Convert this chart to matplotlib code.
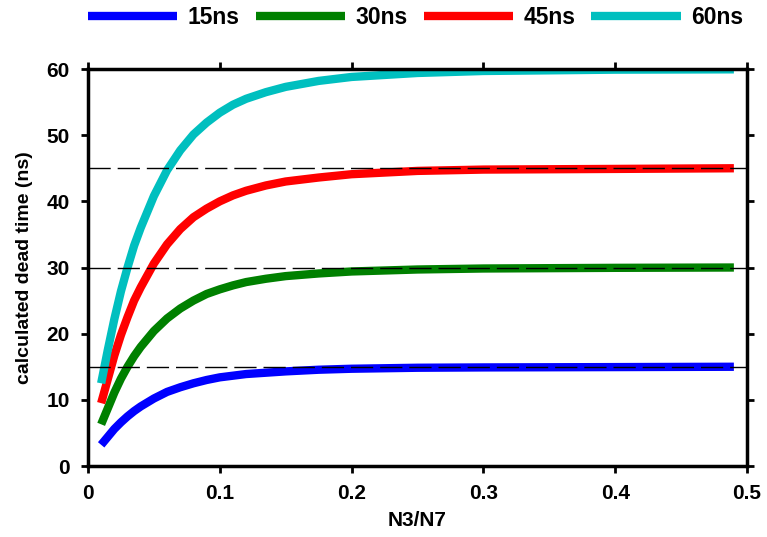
import matplotlib
matplotlib.use('Agg')
from matplotlib import pyplot as plt

plt.rcParams['font.family'] = ['Liberation Sans', 'DejaVu Sans']
plt.rcParams['font.weight'] = 'bold'

# N3/N7 ratio
ratio = [0.01, 0.015, 0.02, 0.025, 0.03, 0.035, 0.04, 0.045, 0.05, 0.06,
         0.07, 0.08, 0.09, 0.10, 0.11, 0.12, 0.135, 0.15, 0.175, 0.2,
         0.25, 0.3, 0.4, 0.49]

# calculated dead time for each true dead time (ns)
dt_15 = [3.2, 4.4, 5.6, 6.6, 7.5, 8.3, 9.0, 9.6, 10.2, 11.2,
         11.9, 12.5, 13.0, 13.4, 13.65, 13.9, 14.1, 14.3, 14.55, 14.7,
         14.85, 14.9, 14.95, 15.0]
dt_30 = [6.3, 8.7, 11.1, 13.2, 15.0, 16.6, 18.0, 19.2, 20.4, 22.3,
         23.8, 25.0, 26.0, 26.7, 27.3, 27.8, 28.3, 28.7, 29.1, 29.4,
         29.7, 29.85, 29.95, 30.0]
dt_45 = [9.5, 13.1, 16.7, 19.8, 22.5, 25.0, 27.0, 28.8, 30.6, 33.5,
         35.8, 37.6, 38.9, 40.0, 40.9, 41.6, 42.4, 43.0, 43.6, 44.1,
         44.6, 44.8, 44.9, 45.0]
dt_60 = [12.5, 17.5, 22.2, 26.4, 30.0, 33.3, 36.0, 38.4, 40.8, 44.7,
         47.7, 50.1, 51.9, 53.4, 54.6, 55.5, 56.5, 57.3, 58.2, 58.8,
         59.4, 59.7, 59.9, 59.95]

labels = ['15ns', '30ns', '45ns', '60ns']
true_dt = [15, 30, 45, 60]
colors = ['#0000ff', '#008000', '#ff0000', '#00bfbf']

fig = plt.figure(figsize=(7.67, 5.37), dpi=100)
ax = fig.add_axes([0.1147, 0.1322, 0.8593, 0.7393])

for y, lab, c in zip([dt_15, dt_30, dt_45, dt_60], labels, colors):
    ax.plot(ratio, y, color=c, lw=6, label=lab, solid_capstyle='butt',
            solid_joinstyle='round')

for t in true_dt:
    ax.axhline(t, color='black', lw=1, dashes=(16, 5), zorder=3)

ax.set_xlim(0, 0.5)
ax.set_ylim(0, 60)
ax.set_xticks([0, 0.1, 0.2, 0.3, 0.4, 0.5])
ax.set_xticklabels(['0', '0.1', '0.2', '0.3', '0.4', '0.5'])
ax.set_yticks(range(0, 61, 10))
ax.tick_params(direction='out', length=5, width=2, labelsize=15,
               top=True, right=True, pad=8)
for s in ax.spines.values():
    s.set_linewidth(2.5)

ax.set_xlabel('N3/N7', fontsize=15, fontweight='bold', labelpad=6)
ax.set_ylabel('calculated dead time (ns)', fontsize=14, fontweight='bold',
              labelpad=10)

ax.legend(loc='center left', bbox_to_anchor=(0.0, 1.13), ncol=4, frameon=False,
          handlelength=3.9, columnspacing=0.7, handletextpad=0.45,
          borderaxespad=0, borderpad=0, prop={'weight': 'bold', 'size': 16.5})

fig.savefig('out.png', dpi=100)
